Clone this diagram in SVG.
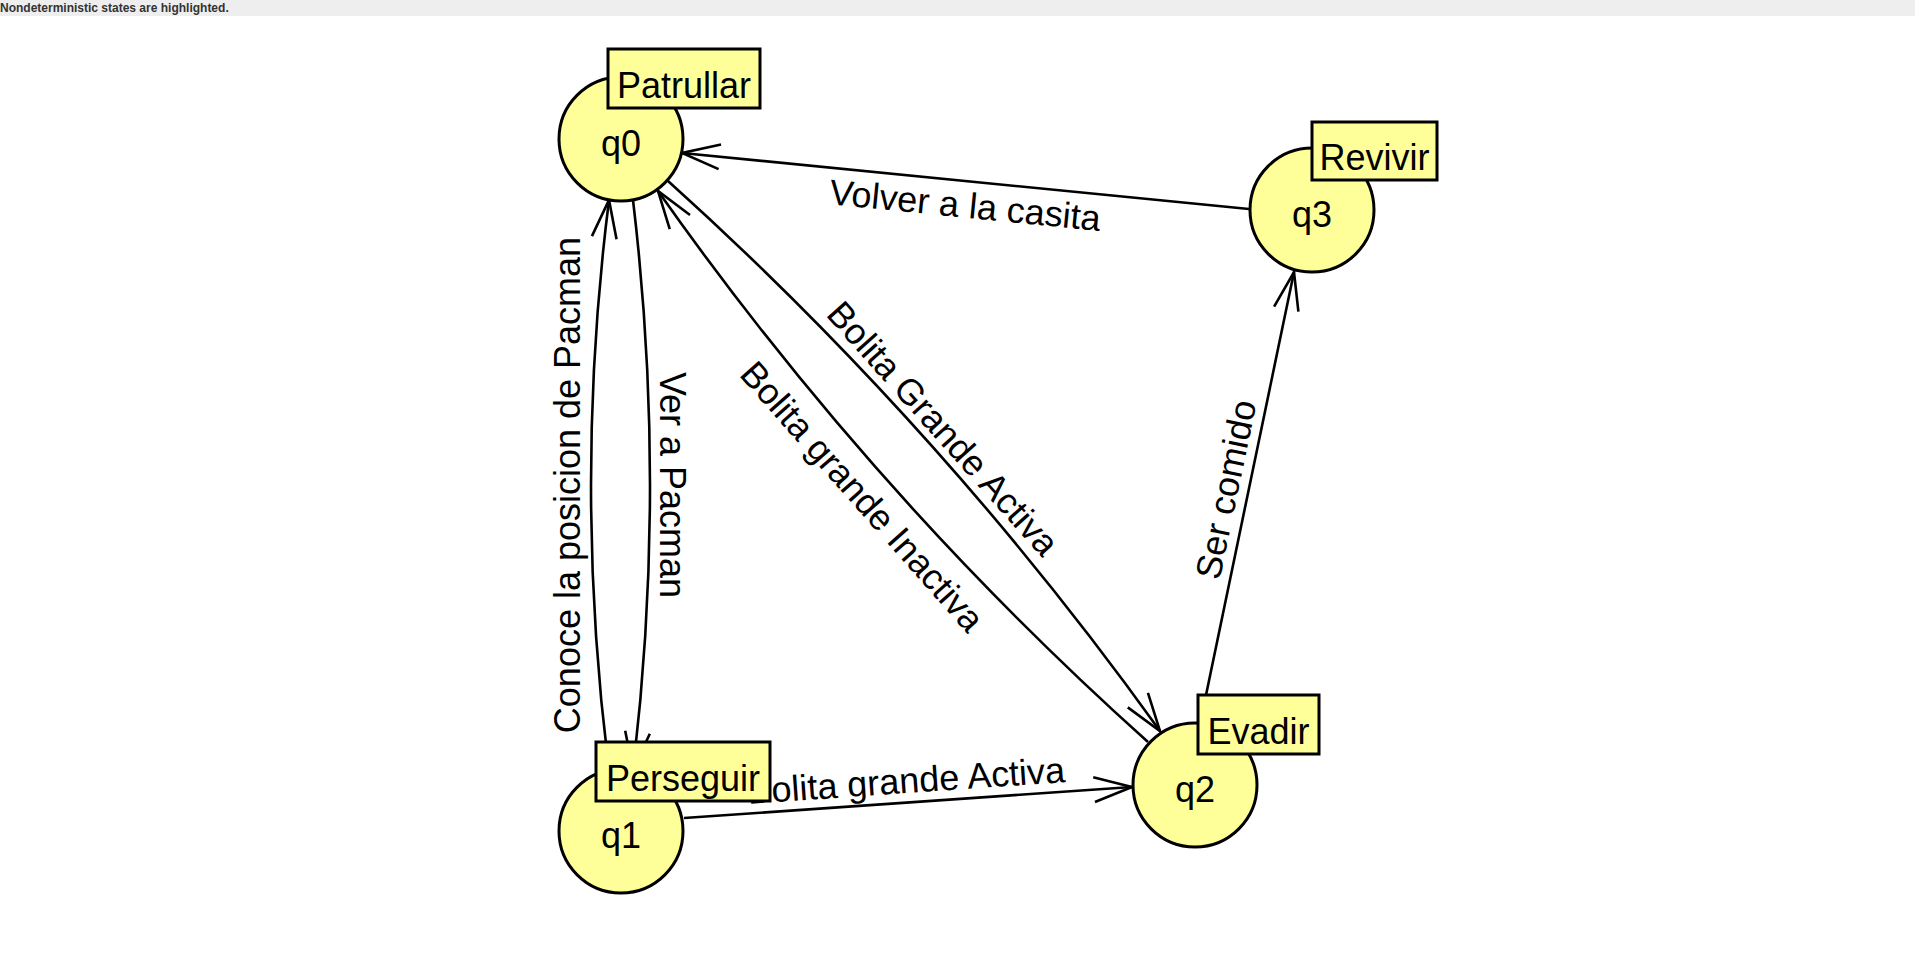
<svg xmlns="http://www.w3.org/2000/svg" width="1915" height="957" viewBox="0 0 1915 957">
<style>
.st{fill:#ffff99;stroke:#000;stroke-width:3}
.box{fill:#ffff99;stroke:#000;stroke-width:3}
.t{font-family:"Liberation Sans",Arial,sans-serif;font-size:36px;fill:#000}
.mid{text-anchor:middle}
.e{fill:none;stroke:#000;stroke-width:2.6;marker-end:url(#arr)}
</style>
<defs>
<marker id="arr" markerUnits="userSpaceOnUse" markerWidth="60" markerHeight="40" viewBox="-50 -20 60 40" refX="0" refY="0" orient="auto" overflow="visible">
<path d="M-38,-12.4 L0,0 L-38,12.4" fill="none" stroke="#000" stroke-width="2.6"/>
</marker>
</defs>
<rect x="0" y="0" width="1915" height="16" fill="#eeeeee"/>
<text x="0" y="12" font-family="Liberation Sans,Arial,sans-serif" font-size="12" font-weight="bold" fill="#333">Nondeterministic states are highlighted.</text>
<g id="connectors">
<path class="e" d="M1249,209 L682,153"/>
<text class="t mid" transform="translate(964,217.5) rotate(5.64)">Volver a la casita</text>
<path class="e" d="M609,770 Q573,485 609,200"/>
<text class="t mid" transform="translate(580,485) rotate(-90)">Conoce la posicion de Pacman</text>
<path class="e" d="M633,200 Q667,485 633,770"/>
<text class="t mid" transform="translate(660,485) rotate(90)">Ver a Pacman</text>
<path class="e" d="M668,181 Q943.8,429.3 1160,731"/>
<text class="t mid" transform="translate(933.8,436.7) rotate(48.2)">Bolita Grande Activa</text>
<path class="e" d="M1148,742 Q871.6,494.4 658,191"/>
<text class="t mid" transform="translate(853,504.6) rotate(48.5)">Bolita grande Inactiva</text>
<path class="e" d="M684,818 L1132,787"/>
<text class="t mid" transform="translate(907,793) rotate(-3.96)">Bolita grande Activa</text>
<path class="e" d="M1200,724 L1294,272"/>
<text class="t mid" transform="translate(1238,492) rotate(-78.2)">Ser comido</text>
</g>
<g id="q0">
<circle class="st" cx="621" cy="139" r="62"/>
<text class="t mid" x="621" y="156">q0</text>
<rect class="box" x="608" y="49" width="152" height="59"/>
<text class="t mid" x="684" y="98">Patrullar</text>
</g>
<g id="q1">
<circle class="st" cx="621" cy="831" r="62"/>
<text class="t mid" x="621" y="848">q1</text>
<rect class="box" x="596" y="742" width="174" height="59"/>
<text class="t mid" x="683" y="791">Perseguir</text>
</g>
<g id="q2">
<circle class="st" cx="1195" cy="785" r="62"/>
<text class="t mid" x="1195" y="802">q2</text>
<rect class="box" x="1198" y="695" width="121" height="59"/>
<text class="t mid" x="1258.5" y="744">Evadir</text>
</g>
<g id="q3">
<circle class="st" cx="1312" cy="210" r="62"/>
<text class="t mid" x="1312" y="227">q3</text>
<rect class="box" x="1312" y="122" width="125" height="58"/>
<text class="t mid" x="1374.5" y="170">Revivir</text>
</g>
</svg>
